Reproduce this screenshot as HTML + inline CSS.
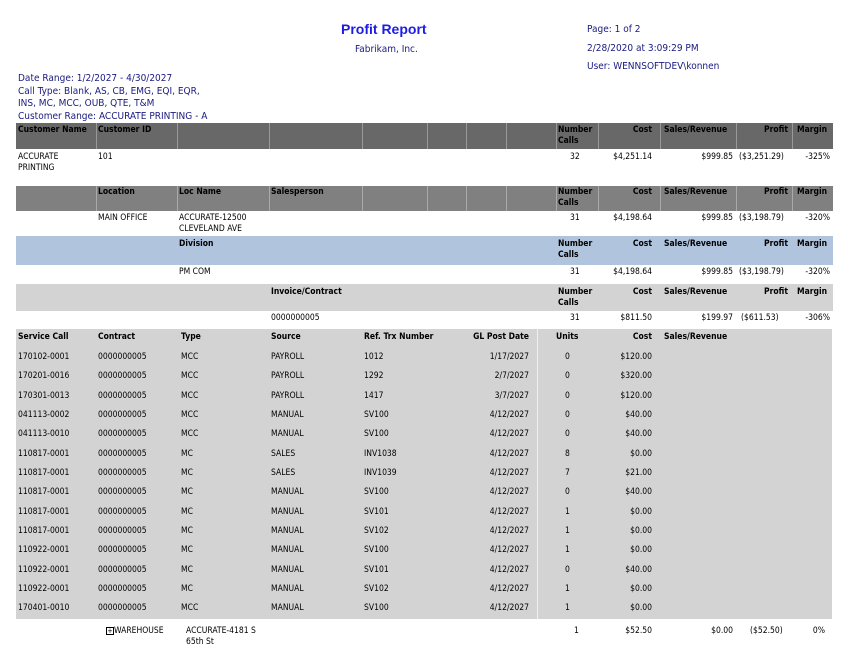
<!DOCTYPE html>
<html><head><meta charset="utf-8"><style>
body{margin:0;width:850px;height:657px;background:#fff;position:relative;overflow:hidden;font-family:"DejaVu Sans Condensed","Liberation Sans",sans-serif;font-size:8.5px;color:#000}
div{position:absolute;white-space:nowrap}
.b{font-weight:bold}
.r{text-align:right}
.n{color:#1a1a80;font-size:10px}
</style></head><body>
<div style="left:341px;top:21px;color:#1c1ce6;font-size:14px;font-weight:bold;font-family:'Liberation Sans',sans-serif">Profit Report</div>
<div class="n" style="left:355px;top:44px">Fabrikam, Inc.</div>
<div class="n" style="left:587px;top:24px">Page: 1 of 2</div>
<div class="n" style="left:587px;top:43px">2/28/2020 at 3:09:29 PM</div>
<div class="n" style="left:587px;top:61px">User: WENNSOFTDEV\konnen</div>
<div class="n" style="left:18px;top:73px;line-height:12.5px">Date Range: 1/2/2027 - 4/30/2027<br>Call Type: Blank, AS, CB, EMG, EQI, EQR,<br>INS, MC, MCC, OUB, QTE, T&amp;M<br>Customer Range: ACCURATE PRINTING - A</div>

<div style="left:16px;top:123px;width:817px;height:26px;background:#686868"></div>
<div style="left:96px;top:123px;width:1px;height:26px;background:#999"></div>
<div style="left:177px;top:123px;width:1px;height:26px;background:#999"></div>
<div style="left:269px;top:123px;width:1px;height:26px;background:#999"></div>
<div style="left:362px;top:123px;width:1px;height:26px;background:#999"></div>
<div style="left:427px;top:123px;width:1px;height:26px;background:#999"></div>
<div style="left:466px;top:123px;width:1px;height:26px;background:#999"></div>
<div style="left:506px;top:123px;width:1px;height:26px;background:#999"></div>
<div style="left:556px;top:123px;width:1px;height:26px;background:#999"></div>
<div style="left:598px;top:123px;width:1px;height:26px;background:#999"></div>
<div style="left:660px;top:123px;width:1px;height:26px;background:#999"></div>
<div style="left:736px;top:123px;width:1px;height:26px;background:#999"></div>
<div style="left:792px;top:123px;width:1px;height:26px;background:#999"></div>
<div class="b" style="left:18px;top:125px">Customer Name</div>
<div class="b" style="left:98px;top:125px">Customer ID</div>
<div class="b" style="left:558px;top:125px;line-height:10.5px">Number<br>Calls</div>
<div class="b r" style="left:600px;top:125px;width:52px">Cost</div>
<div class="b" style="left:664px;top:125px">Sales/Revenue</div>
<div class="b r" style="left:740px;top:125px;width:48px">Profit</div>
<div class="b" style="left:797px;top:125px">Margin</div>
<div style="left:18px;top:152px;line-height:10.5px">ACCURATE<br>PRINTING</div>
<div style="left:98px;top:152px">101</div>
<div style="left:570px;top:152px">32</div>
<div class="r" style="left:590px;top:152px;width:62px">$4,251.14</div>
<div class="r" style="left:660px;top:152px;width:73px">$999.85</div>
<div style="left:739px;top:152px">($3,251.29)</div>
<div class="r" style="left:795px;top:152px;width:35px">-325%</div>

<div style="left:16px;top:186px;width:817px;height:25px;background:#808080"></div>
<div style="left:96px;top:186px;width:1px;height:25px;background:#aaa"></div>
<div style="left:177px;top:186px;width:1px;height:25px;background:#aaa"></div>
<div style="left:269px;top:186px;width:1px;height:25px;background:#aaa"></div>
<div style="left:362px;top:186px;width:1px;height:25px;background:#aaa"></div>
<div style="left:427px;top:186px;width:1px;height:25px;background:#aaa"></div>
<div style="left:466px;top:186px;width:1px;height:25px;background:#aaa"></div>
<div style="left:506px;top:186px;width:1px;height:25px;background:#aaa"></div>
<div style="left:556px;top:186px;width:1px;height:25px;background:#aaa"></div>
<div style="left:598px;top:186px;width:1px;height:25px;background:#aaa"></div>
<div style="left:660px;top:186px;width:1px;height:25px;background:#aaa"></div>
<div style="left:736px;top:186px;width:1px;height:25px;background:#aaa"></div>
<div style="left:792px;top:186px;width:1px;height:25px;background:#aaa"></div>
<div class="b" style="left:98px;top:187px">Location</div>
<div class="b" style="left:179px;top:187px">Loc Name</div>
<div class="b" style="left:271px;top:187px">Salesperson</div>
<div class="b" style="left:558px;top:187px;line-height:10.5px">Number<br>Calls</div>
<div class="b r" style="left:600px;top:187px;width:52px">Cost</div>
<div class="b" style="left:664px;top:187px">Sales/Revenue</div>
<div class="b r" style="left:740px;top:187px;width:48px">Profit</div>
<div class="b" style="left:797px;top:187px">Margin</div>
<div style="left:98px;top:213px">MAIN OFFICE</div>
<div style="left:179px;top:213px;line-height:10.5px">ACCURATE-12500<br>CLEVELAND AVE</div>
<div style="left:570px;top:213px">31</div>
<div class="r" style="left:590px;top:213px;width:62px">$4,198.64</div>
<div class="r" style="left:660px;top:213px;width:73px">$999.85</div>
<div style="left:739px;top:213px">($3,198.79)</div>
<div class="r" style="left:795px;top:213px;width:35px">-320%</div>

<div style="left:16px;top:236px;width:817px;height:29px;background:#b0c4de"></div>
<div class="b" style="left:179px;top:239px">Division</div>
<div class="b" style="left:558px;top:239px;line-height:10.5px">Number<br>Calls</div>
<div class="b r" style="left:600px;top:239px;width:52px">Cost</div>
<div class="b" style="left:664px;top:239px">Sales/Revenue</div>
<div class="b r" style="left:740px;top:239px;width:48px">Profit</div>
<div class="b" style="left:797px;top:239px">Margin</div>
<div style="left:179px;top:267px">PM COM</div>
<div style="left:570px;top:267px">31</div>
<div class="r" style="left:590px;top:267px;width:62px">$4,198.64</div>
<div class="r" style="left:660px;top:267px;width:73px">$999.85</div>
<div style="left:739px;top:267px">($3,198.79)</div>
<div class="r" style="left:795px;top:267px;width:35px">-320%</div>

<div style="left:16px;top:284px;width:817px;height:27px;background:#d3d3d3"></div>
<div class="b" style="left:271px;top:287px">Invoice/Contract</div>
<div class="b" style="left:558px;top:287px;line-height:10.5px">Number<br>Calls</div>
<div class="b r" style="left:600px;top:287px;width:52px">Cost</div>
<div class="b" style="left:664px;top:287px">Sales/Revenue</div>
<div class="b r" style="left:740px;top:287px;width:48px">Profit</div>
<div class="b" style="left:797px;top:287px">Margin</div>
<div style="left:271px;top:313px">0000000005</div>
<div style="left:570px;top:313px">31</div>
<div class="r" style="left:590px;top:313px;width:62px">$811.50</div>
<div class="r" style="left:660px;top:313px;width:73px">$199.97</div>
<div style="left:741px;top:313px">($611.53)</div>
<div class="r" style="left:795px;top:313px;width:35px">-306%</div>

<div style="left:16px;top:329px;width:816px;height:290px;background:#d3d3d3"></div>
<div style="left:537px;top:329px;width:1px;height:290px;background:#f0f0f0"></div>
<div class="b" style="left:18px;top:332px">Service Call</div>
<div class="b" style="left:98px;top:332px">Contract</div>
<div class="b" style="left:181px;top:332px">Type</div>
<div class="b" style="left:271px;top:332px">Source</div>
<div class="b" style="left:364px;top:332px">Ref. Trx Number</div>
<div class="b r" style="left:460px;top:332px;width:69px">GL Post Date</div>
<div class="b" style="left:556px;top:332px">Units</div>
<div class="b r" style="left:600px;top:332px;width:52px">Cost</div>
<div class="b" style="left:664px;top:332px">Sales/Revenue</div>

<div style="left:18px;top:348px;line-height:19.35px">170102-0001<br>170201-0016<br>170301-0013<br>041113-0002<br>041113-0010<br>110817-0001<br>110817-0001<br>110817-0001<br>110817-0001<br>110817-0001<br>110922-0001<br>110922-0001<br>110922-0001<br>170401-0010</div>
<div style="left:98px;top:348px;line-height:19.35px">0000000005<br>0000000005<br>0000000005<br>0000000005<br>0000000005<br>0000000005<br>0000000005<br>0000000005<br>0000000005<br>0000000005<br>0000000005<br>0000000005<br>0000000005<br>0000000005</div>
<div style="left:181px;top:348px;line-height:19.35px">MCC<br>MCC<br>MCC<br>MCC<br>MCC<br>MC<br>MC<br>MC<br>MC<br>MC<br>MC<br>MC<br>MC<br>MCC</div>
<div style="left:271px;top:348px;line-height:19.35px">PAYROLL<br>PAYROLL<br>PAYROLL<br>MANUAL<br>MANUAL<br>SALES<br>SALES<br>MANUAL<br>MANUAL<br>MANUAL<br>MANUAL<br>MANUAL<br>MANUAL<br>MANUAL</div>
<div style="left:364px;top:348px;line-height:19.35px">1012<br>1292<br>1417<br>SV100<br>SV100<br>INV1038<br>INV1039<br>SV100<br>SV101<br>SV102<br>SV100<br>SV101<br>SV102<br>SV100</div>
<div class="r" style="left:460px;top:348px;width:69px;line-height:19.35px">1/17/2027<br>2/7/2027<br>3/7/2027<br>4/12/2027<br>4/12/2027<br>4/12/2027<br>4/12/2027<br>4/12/2027<br>4/12/2027<br>4/12/2027<br>4/12/2027<br>4/12/2027<br>4/12/2027<br>4/12/2027</div>
<div style="left:565px;top:348px;line-height:19.35px">0<br>0<br>0<br>0<br>0<br>8<br>7<br>0<br>1<br>1<br>1<br>0<br>1<br>1</div>
<div class="r" style="left:590px;top:348px;width:62px;line-height:19.35px">$120.00<br>$320.00<br>$120.00<br>$40.00<br>$40.00<br>$0.00<br>$21.00<br>$40.00<br>$0.00<br>$0.00<br>$0.00<br>$40.00<br>$0.00<br>$0.00</div>

<div style="left:106px;top:627px;width:6px;height:6px;border:1px solid #000;font-size:7px;line-height:6px;text-align:center">+</div>
<div style="left:114px;top:626px">WAREHOUSE</div>
<div style="left:186px;top:626px;line-height:10.5px">ACCURATE-4181 S<br>65th St</div>
<div style="left:574px;top:626px">1</div>
<div class="r" style="left:590px;top:626px;width:62px">$52.50</div>
<div class="r" style="left:680px;top:626px;width:53px">$0.00</div>
<div style="left:750px;top:626px">($52.50)</div>
<div class="r" style="left:795px;top:626px;width:30px">0%</div>
</body></html>
